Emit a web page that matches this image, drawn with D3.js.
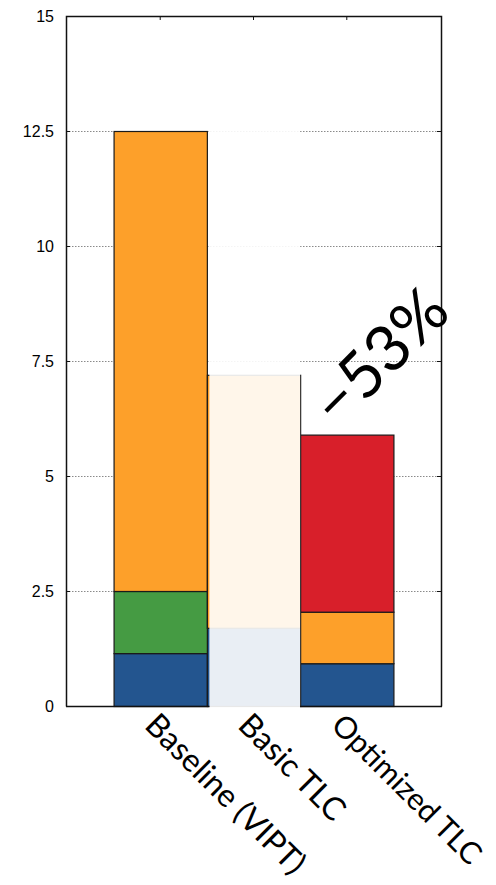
<!DOCTYPE html>
<html>
<head>
<meta charset="utf-8">
<script src="https://cdn.jsdelivr.net/npm/d3@7"></script>
<style>
  html, body { margin: 0; padding: 0; background: #fff; }
  svg { display: block; }
</style>
</head>
<body>
<svg id="chart" width="496" height="885"></svg>
<script>
// Stacked components per configuration
const categories = ["Baseline (VIPT)", "Basic TLC", "Optimized TLC"];
const blueValues   = [1.15, 1.70, 0.93];
const greenValues  = [1.35, 0.00, 0.00];
const orangeValues = [10.00, 5.50, 1.12];
const redValues    = [0.00, 0.00, 3.85];
const yTicks = [0, 2.5, 5, 7.5, 10, 12.5, 15];
const yTickLabels = ["0", "2.5", "5", "7.5", "10", "12.5", "15"];
const fadedCategory = "Basic TLC";
const reductionLabel = "\u221253%";

const seriesKeys = ["blue", "green", "orange", "red"];
const seriesColors = { blue: "#23558f", green: "#459b43", orange: "#fda02a", red: "#d81f2a" };

const rows = categories.map((c, i) => ({
  category: c,
  blue: blueValues[i],
  green: greenValues[i],
  orange: orangeValues[i],
  red: redValues[i]
}));

const svg = d3.select("#chart");
const margin = { left: 66, right: 55, top: 16, bottom: 179 };
const W = 496, H = 885;
const x0 = margin.left, x1 = W - margin.right;
const yTop = margin.top, yBottom = H - margin.bottom;

const x = d3.scaleBand().domain(categories).range([x0, x1]).paddingInner(0).paddingOuter(0.51);
const y = d3.scaleLinear().domain([0, 15]).range([yBottom, yTop]);

// dotted grid lines
svg.append("g").selectAll("line").data(yTicks.filter(t => t > 0 && t < 15)).join("line")
  .attr("x1", x0).attr("x2", x1)
  .attr("y1", d => y(d) + 0.5).attr("y2", d => y(d) + 0.5)
  .attr("stroke", "#8a8a8a").attr("stroke-width", 1)
  .attr("stroke-dasharray", "1.5,1.5");

// stacked bars
const stacked = d3.stack().keys(seriesKeys)(rows);
const layers = svg.append("g").selectAll("g").data(stacked).join("g")
  .attr("fill", d => seriesColors[d.key]);
layers.selectAll("rect").data(d => d.filter(s => s[1] - s[0] > 0)).join("rect")
  .attr("x", d => x(d.data.category) + 0.5)
  .attr("width", x.bandwidth())
  .attr("y", d => y(d[1]) + 0.5)
  .attr("height", d => y(d[0]) - y(d[1]))
  .attr("stroke", "#1a1a1a").attr("stroke-width", 1.2);

// fade the Basic TLC column
svg.append("rect")
  .attr("x", x(fadedCategory) + 2.5)
  .attr("width", x.bandwidth() - 2.5)
  .attr("y", yTop + 2)
  .attr("height", yBottom - yTop + 1)
  .attr("fill", "#fff").attr("opacity", 0.9);

// frame
svg.append("path")
  .attr("d", `M${x0 + 0.5},${yBottom + 0.5}V${yTop + 0.5}H${x1 + 0.5}V${yBottom + 0.5}`)
  .attr("fill", "none").attr("stroke", "#111").attr("stroke-width", 1.5);
svg.append("line")
  .attr("x1", x0).attr("x2", x(fadedCategory) + 2.5)
  .attr("y1", yBottom + 0.5).attr("y2", yBottom + 0.5)
  .attr("stroke", "#111").attr("stroke-width", 1.5);
svg.append("line")
  .attr("x1", x(fadedCategory) + x.bandwidth()).attr("x2", x1 + 1)
  .attr("y1", yBottom + 0.5).attr("y2", yBottom + 0.5)
  .attr("stroke", "#111").attr("stroke-width", 1.5);

// inner tick marks
const tickG = svg.append("g").attr("stroke", "#111").attr("stroke-width", 1);
tickG.selectAll("line.yl").data(yTicks).join("line").attr("class", "yl")
  .attr("x1", x0).attr("x2", x0 + 4)
  .attr("y1", d => y(d) + 0.5).attr("y2", d => y(d) + 0.5);
tickG.selectAll("line.yr").data(yTicks).join("line").attr("class", "yr")
  .attr("x1", x1 - 4).attr("x2", x1)
  .attr("y1", d => y(d) + 0.5).attr("y2", d => y(d) + 0.5);
tickG.selectAll("line.xt").data(categories).join("line").attr("class", "xt")
  .attr("x1", d => x(d) + x.bandwidth() / 2).attr("x2", d => x(d) + x.bandwidth() / 2)
  .attr("y1", yTop).attr("y2", yTop + 4);

// y tick labels
svg.append("g").selectAll("text").data(yTicks).join("text")
  .attr("x", 54).attr("y", d => y(d))
  .attr("dy", "0.36em")
  .attr("text-anchor", "end")
  .attr("font-family", "Liberation Sans, Arial, sans-serif")
  .attr("font-size", 16)
  .attr("fill", "#000")
  .text((d, i) => yTickLabels[i]);

// rotated category labels; a label that would run off the right edge gets a smaller font
const labelSize = 32;
const labelStart = d => x(d) + x.bandwidth() / 2 - 17;
svg.append("g").selectAll("text").data(categories).join("text")
  .attr("transform", d => `translate(${labelStart(d)},${yBottom + 21}) rotate(45)`)
  .attr("font-family", "Lato, sans-serif")
  .attr("font-size", labelSize)
  .attr("fill", "#000")
  .text(d => d)
  .each(function (d) {
    const len = this.getComputedTextLength();
    const avail = (W - 4 - labelStart(d)) / Math.SQRT1_2;
    const needed = len + labelSize * 1.05;
    if (needed > avail) {
      const size = labelSize * avail / needed;
      d3.select(this).attr("font-size", size.toFixed(2));
    }
  });

// reduction annotation
svg.append("text")
  .attr("transform", `translate(378,355) rotate(-45)`)
  .attr("text-anchor", "middle")
  .attr("dominant-baseline", "central")
  .attr("font-family", "Lato, sans-serif")
  .attr("font-size", 64)
  .attr("fill", "#000")
  .text(reductionLabel);
</script>
</body>
</html>
